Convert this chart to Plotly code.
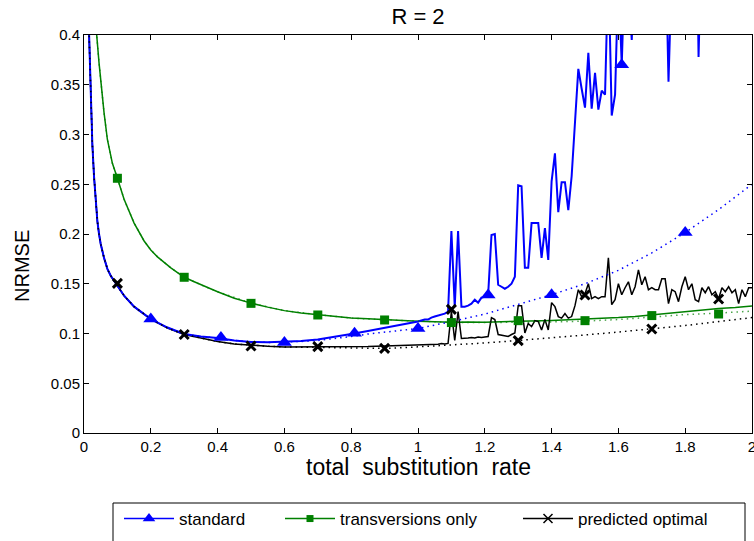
import plotly.graph_objects as go

# ---------------- data ----------------
# shared low-rate grid for "standard" and "predicted optimal" solid curves
rate_low = [0.01, 0.015, 0.02, 0.025, 0.03, 0.035, 0.04, 0.045, 0.05, 0.06, 0.07, 0.08,
            0.09, 0.10, 0.12, 0.15, 0.20, 0.25, 0.30, 0.35, 0.40, 0.45, 0.50, 0.55,
            0.60, 0.65, 0.70, 0.75, 0.80, 0.85, 0.90, 0.95]
rate_high = [round(1.00 + 0.01 * i, 2) for i in range(101)]

standard_low = [0.460, 0.398, 0.335, 0.290, 0.258, 0.232, 0.213, 0.200, 0.190, 0.176, 0.165, 0.158,
                0.153, 0.149, 0.138, 0.127, 0.1145, 0.106, 0.0995, 0.097, 0.0955, 0.093, 0.0915, 0.0912,
                0.0915, 0.0925, 0.094, 0.0965, 0.0995, 0.1025, 0.1055, 0.109]
standard_high = [0.112, 0.113, 0.114, 0.114, 0.116, 0.117, 0.118, 0.119, 0.120, 0.122,
                 0.203, 0.127, 0.203, 0.127, 0.127, 0.128, 0.130, 0.134, 0.131, 0.136,
                 0.137, 0.139, 0.199, 0.200, 0.149, 0.147, 0.145, 0.147, 0.150, 0.157,
                 0.249, 0.248, 0.166, 0.166, 0.211, 0.211, 0.211, 0.176, 0.206, 0.174,
                 0.253, 0.281, 0.222, 0.252, 0.252, 0.224, 0.258, 0.312, 0.366, 0.346,
                 0.327, 0.382, 0.326, 0.362, 0.325, 0.344, 0.340, 0.470, 0.319, 0.340,
                 0.460, 0.370, 0.480, 0.450, 0.395, 0.500, 0.470, 0.520, 0.490, 0.540,
                 0.500, 0.560, 0.520, 0.550, 0.510, 0.353, 0.530, 0.580, 0.540, 0.600,
                 0.560, 0.610, 0.580, 0.620, 0.378, 0.600, 0.650, 0.620, 0.680, 0.640,
                 0.700, 0.660, 0.720, 0.680, 0.740, 0.700, 0.760, 0.720, 0.780, 0.740,
                 0.800]

optimal_low = [0.460, 0.398, 0.335, 0.290, 0.258, 0.232, 0.213, 0.200, 0.190, 0.176, 0.165, 0.158,
               0.153, 0.149, 0.138, 0.127, 0.1145, 0.1055, 0.099, 0.0955, 0.092, 0.0895, 0.088, 0.0872,
               0.0865, 0.0865, 0.0867, 0.0864, 0.0868, 0.087, 0.0875, 0.088]
optimal_high = [0.0885, 0.089, 0.0888, 0.0893, 0.089, 0.0895, 0.0893, 0.090, 0.0895, 0.090,
                0.122, 0.093, 0.122, 0.095, 0.095, 0.0955, 0.096, 0.0955, 0.0965, 0.096,
                0.0965, 0.097, 0.116, 0.114, 0.099, 0.0985, 0.098, 0.097, 0.099, 0.1005,
                0.128, 0.128, 0.1005, 0.110, 0.107, 0.113, 0.112, 0.1035, 0.114, 0.1035,
                0.131, 0.127, 0.117, 0.1155, 0.120, 0.1155, 0.117, 0.128, 0.144, 0.137,
                0.140, 0.150, 0.135, 0.137, 0.135, 0.137, 0.137, 0.176, 0.129, 0.134,
                0.150, 0.139, 0.146, 0.152, 0.139, 0.147, 0.164, 0.149, 0.157, 0.144,
                0.146, 0.144, 0.144, 0.155, 0.155, 0.130, 0.144, 0.142, 0.132, 0.147,
                0.157, 0.144, 0.150, 0.134, 0.132, 0.146, 0.141, 0.147, 0.139, 0.142,
                0.135, 0.146, 0.142, 0.147, 0.141, 0.144, 0.130, 0.144, 0.137, 0.146,
                0.146]

transv_rate = [0.03, 0.038, 0.045, 0.05, 0.06, 0.07, 0.085, 0.10, 0.12, 0.15, 0.18, 0.20,
               0.22, 0.26, 0.30, 0.33, 0.36, 0.40, 0.45, 0.50, 0.55, 0.60, 0.65, 0.70,
               0.75, 0.80, 0.85, 0.90, 0.95, 1.00, 1.05, 1.10, 1.15, 1.20, 1.25, 1.30,
               1.35, 1.40, 1.45, 1.50, 1.55, 1.60, 1.65, 1.70, 1.75, 1.80, 1.85, 1.90,
               1.95, 2.00]
transv_vals = [0.470, 0.400, 0.372, 0.355, 0.322, 0.295, 0.271, 0.256, 0.235, 0.211, 0.193, 0.184,
               0.177, 0.166, 0.1565, 0.152, 0.1475, 0.142, 0.1355, 0.1305, 0.1265, 0.123, 0.1205, 0.119,
               0.1172, 0.1155, 0.1148, 0.1138, 0.1132, 0.1122, 0.1118, 0.1112, 0.1116, 0.1112, 0.1118, 0.112,
               0.1126, 0.1131, 0.1137, 0.1143, 0.1152, 0.116, 0.1172, 0.1188, 0.120, 0.1222, 0.1234, 0.1252,
               0.1262, 0.1276]

# predicted (dotted) curves
pred_rate = [0.01, 0.015, 0.02, 0.025, 0.03, 0.035, 0.04, 0.045, 0.05, 0.06, 0.07, 0.08,
             0.09, 0.10, 0.12, 0.15, 0.20, 0.25, 0.30, 0.35, 0.40, 0.45, 0.50, 0.55,
             0.60, 0.65, 0.70, 0.75, 0.80, 0.85, 0.90, 0.95, 1.00, 1.10, 1.20, 1.30,
             1.40, 1.50, 1.60, 1.70, 1.80, 1.90, 2.00]
standard_pred = [0.460, 0.398, 0.335, 0.290, 0.258, 0.232, 0.213, 0.200, 0.190, 0.176, 0.165, 0.158,
                 0.153, 0.149, 0.138, 0.127, 0.1145, 0.106, 0.0995, 0.097, 0.0955, 0.093, 0.0915, 0.091,
                 0.0912, 0.092, 0.093, 0.0948, 0.097, 0.0995, 0.1015, 0.103, 0.105, 0.112, 0.1195, 0.1293,
                 0.139, 0.150, 0.1635, 0.181, 0.2015, 0.2245, 0.250]
optimal_pred = [0.460, 0.398, 0.335, 0.290, 0.258, 0.232, 0.213, 0.200, 0.190, 0.176, 0.165, 0.158,
                0.153, 0.149, 0.138, 0.127, 0.1145, 0.1055, 0.099, 0.0955, 0.092, 0.0895, 0.088, 0.0872,
                0.0865, 0.0862, 0.0862, 0.0857, 0.0853, 0.0851, 0.085, 0.0856, 0.0865, 0.0883, 0.0905, 0.093,
                0.0955, 0.0985, 0.1015, 0.1045, 0.108, 0.112, 0.116]
transv_pred_rate = [0.03, 0.038, 0.045, 0.05, 0.06, 0.07, 0.085, 0.10, 0.12, 0.15, 0.18, 0.20,
                    0.22, 0.26, 0.30, 0.36, 0.40, 0.50, 0.60, 0.70, 0.80, 0.90, 1.00, 1.10,
                    1.20, 1.30, 1.40, 1.50, 1.60, 1.70, 1.80, 1.90, 2.00]
transv_pred = [0.470, 0.400, 0.372, 0.355, 0.322, 0.295, 0.271, 0.256, 0.235, 0.211, 0.193, 0.184,
               0.177, 0.166, 0.1565, 0.1475, 0.142, 0.1305, 0.123, 0.119, 0.1155, 0.1138, 0.1122, 0.1112,
               0.111, 0.1112, 0.1116, 0.1125, 0.114, 0.1165, 0.119, 0.1205, 0.1225]

# marker positions
standard_mk_x = [0.2, 0.41, 0.6, 0.81, 1.0, 1.21, 1.4, 1.61, 1.8]
standard_mk_y = [0.1145, 0.096, 0.091, 0.1002, 0.105, 0.1387, 0.139, 0.370, 0.2015]
transv_mk_x = [0.1, 0.3, 0.5, 0.7, 0.9, 1.1, 1.3, 1.5, 1.7, 1.9]
transv_mk_y = [0.256, 0.1565, 0.1303, 0.1186, 0.1136, 0.111, 0.1129, 0.1129, 0.118, 0.1196]
optimal_mk_x = [0.1, 0.3, 0.5, 0.7, 0.9, 1.1, 1.3, 1.5, 1.7, 1.9]
optimal_mk_y = [0.1504, 0.099, 0.0874, 0.0868, 0.0851, 0.1243, 0.0928, 0.1387, 0.1045, 0.1347]

x_ticks = [0, 0.2, 0.4, 0.6, 0.8, 1.0, 1.2, 1.4, 1.6, 1.8, 2.0]
x_ticktext = ["0", "0.2", "0.4", "0.6", "0.8", "1", "1.2", "1.4", "1.6", "1.8", "2"]
y_ticks = [0, 0.05, 0.1, 0.15, 0.2, 0.25, 0.3, 0.35, 0.4]
y_ticktext = ["0", "0.05", "0.1", "0.15", "0.2", "0.25", "0.3", "0.35", "0.4"]

series_names = ["standard", "transversions only", "predicted optimal"]

# ---------------- styling ----------------
BLUE = "#0000FF"
GREEN = "#008000"
BLACK = "#000000"
FONT = "Liberation Sans, Arial, Helvetica, sans-serif"

W, H = 754, 541
ML, MR, MT, MB = 84, 2, 35, 108
PW, PH = W - ML - MR, H - MT - MB


def px_x(px):
    return (px - ML) / PW


def px_y(py):
    return (H - MB - py) / PH


fig = go.Figure()

# solid curves
fig.add_trace(go.Scatter(x=transv_rate, y=transv_vals, mode="lines",
                         line=dict(color=GREEN, width=1.5), showlegend=False))
fig.add_trace(go.Scatter(x=rate_low + rate_high, y=optimal_low + optimal_high, mode="lines",
                         line=dict(color=BLACK, width=1.5), showlegend=False))
fig.add_trace(go.Scatter(x=rate_low + rate_high, y=standard_low + standard_high, mode="lines",
                         line=dict(color=BLUE, width=2), showlegend=False))

# dotted predicted curves
dot = "1.5px,4px"
fig.add_trace(go.Scatter(x=transv_pred_rate, y=transv_pred, mode="lines",
                         line=dict(color=GREEN, width=1.5, dash=dot), opacity=0.7, showlegend=False))
fig.add_trace(go.Scatter(x=pred_rate, y=standard_pred, mode="lines",
                         line=dict(color=BLUE, width=1.5, dash=dot), showlegend=False))
fig.add_trace(go.Scatter(x=pred_rate, y=optimal_pred, mode="lines",
                         line=dict(color=BLACK, width=1.5, dash=dot), showlegend=False))

# markers
fig.add_trace(go.Scatter(x=standard_mk_x, y=standard_mk_y, mode="markers",
                         marker=dict(symbol="triangle-up", size=13, color=BLUE, line=dict(width=0)),
                         showlegend=False))
fig.add_trace(go.Scatter(x=transv_mk_x, y=transv_mk_y, mode="markers",
                         marker=dict(symbol="square", size=9, color=GREEN, line=dict(width=0)),
                         showlegend=False))
fig.add_trace(go.Scatter(x=optimal_mk_x, y=optimal_mk_y, mode="markers",
                         marker=dict(symbol="x-thin", size=9, color=BLACK,
                                     line=dict(width=3, color=BLACK)),
                         showlegend=False))

# legend entries (each in its own legend so positions can match)
fig.add_trace(go.Scatter(x=[None], y=[None], mode="lines+markers", name=series_names[0],
                         line=dict(color=BLUE, width=1.5),
                         marker=dict(symbol="triangle-up", size=11, color=BLUE), legend="legend"))
fig.add_trace(go.Scatter(x=[None], y=[None], mode="lines+markers", name=series_names[1],
                         line=dict(color=GREEN, width=1.5),
                         marker=dict(symbol="square", size=7, color=GREEN), legend="legend2"))
fig.add_trace(go.Scatter(x=[None], y=[None], mode="lines+markers", name=series_names[2],
                         line=dict(color=BLACK, width=1.5),
                         marker=dict(symbol="x-thin", size=9, color=BLACK,
                                     line=dict(width=1.5, color=BLACK)), legend="legend3"))

leg_common = dict(orientation="h", yanchor="middle", xanchor="left", y=px_y(519),
                  bgcolor="rgba(0,0,0,0)", borderwidth=0, font=dict(family=FONT, size=17, color="#000"),
                  itemwidth=50)

axis_common = dict(showline=True, linecolor=BLACK, linewidth=1, mirror="ticks",
                   ticks="inside", ticklen=5, tickcolor=BLACK, tickwidth=1,
                   showgrid=False, zeroline=False, automargin=False, ticklabeloverflow="allow",
                   tickfont=dict(family=FONT, size=15, color="#000"))

fig.update_layout(
    width=W, height=H,
    margin=dict(l=ML, r=MR, t=MT, b=MB),
    paper_bgcolor="white", plot_bgcolor="white",
    title=dict(text="R = 2", x=418 / W, xanchor="center",
               y=1 - 16 / H, yanchor="middle", yref="container", xref="container",
               font=dict(family=FONT, size=22, color="#000")),
    xaxis=dict(range=[0, 2], tickvals=x_ticks, ticktext=x_ticktext, **axis_common),
    yaxis=dict(range=[0, 0.4], tickvals=y_ticks, ticktext=y_ticktext, **axis_common),
    legend=dict(x=px_x(119), **leg_common),
    legend2=dict(x=px_x(280), **leg_common),
    legend3=dict(x=px_x(518), **leg_common),
    annotations=[
        dict(text="total\u00a0\u00a0substitution\u00a0\u00a0rate", xref="paper", yref="paper",
             x=px_x(418), y=px_y(467), xanchor="center", yanchor="middle", showarrow=False,
             font=dict(family=FONT, size=23, color="#000")),
        dict(text="NRMSE", xref="paper", yref="paper", x=px_x(22), y=px_y(266),
             xanchor="center", yanchor="middle", showarrow=False, textangle=-90,
             font=dict(family=FONT, size=20, color="#000")),
    ],
    shapes=[
        dict(type="rect", xref="paper", yref="paper", x0=px_x(113), x1=px_x(745),
             y0=px_y(503), y1=px_y(580), line=dict(color=BLACK, width=1), fillcolor="rgba(0,0,0,0)",
             layer="above"),
    ],
)

fig.write_html("out.html", config={"displayModeBar": False},
               post_script="document.body.style.margin='0';document.body.style.overflow='hidden';")
